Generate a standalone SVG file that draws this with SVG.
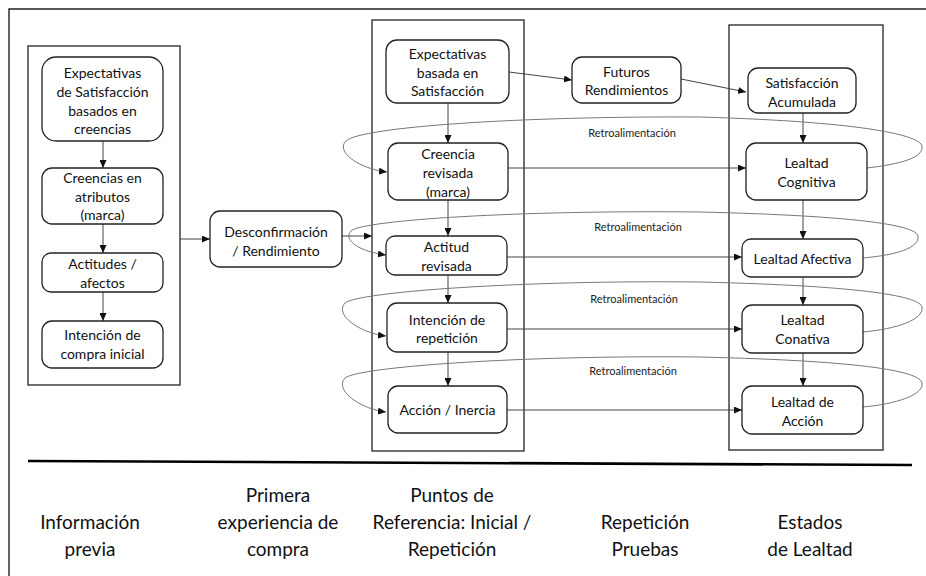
<svg xmlns="http://www.w3.org/2000/svg" width="926" height="576" viewBox="0 0 926 576">
  <defs>
    <marker id="arrow" markerUnits="userSpaceOnUse" markerWidth="8" markerHeight="7" refX="8" refY="3.5" orient="auto">
      <path d="M0,0 L8,3.5 L0,7 z" fill="#111"/>
    </marker>
    <style>
      .frame { fill: none; stroke: #222; stroke-width: 1.4; }
      .box { fill: none; stroke: #333; stroke-width: 1.4; }
      .node rect { fill: #fff; stroke: #222; stroke-width: 1.3; }
      .node text { font-family: Lato, "Liberation Sans", sans-serif; font-size: 14px; fill: #111; text-anchor: middle; }
      .link { fill: none; stroke: #444; stroke-width: 1; marker-end: url(#arrow); }
      .loop { fill: none; stroke: #777; stroke-width: 1; marker-end: url(#arrow); }
      .loopLabel { font-family: Lato, "Liberation Sans", sans-serif; font-size: 11px; fill: #222; text-anchor: middle; }
      .stage { font-family: Lato, "Liberation Sans", sans-serif; font-size: 19px; fill: #111; text-anchor: middle; }
    </style>
  </defs>

  <rect width="926" height="576" fill="#fff"/>

  <!-- outer frame (runs off the right and bottom edges) -->
  <path class="frame" d="M9,590 L9,9 L940,9"/>

  <!-- stage containers -->
  <rect class="box" x="28" y="46" width="152" height="339"/>
  <rect class="box" x="372" y="20" width="152" height="431"/>
  <rect class="box" x="729" y="25" width="154" height="425"/>

  <!-- connectors -->
  <g id="connectors">
    <line class="link" x1="103" y1="141" x2="103" y2="168"/>
    <line class="link" x1="103" y1="224" x2="103" y2="253"/>
    <line class="link" x1="103" y1="292" x2="103" y2="321"/>
    <line class="link" x1="180" y1="239" x2="210" y2="239"/>
    <line class="link" x1="342" y1="236" x2="372" y2="236"/>

    <line class="link" x1="448" y1="103" x2="448" y2="143"/>
    <line class="link" x1="448" y1="200" x2="448" y2="236"/>
    <line class="link" x1="448" y1="275" x2="448" y2="303"/>
    <line class="link" x1="448" y1="352" x2="448" y2="386"/>

    <line class="link" x1="509" y1="72" x2="572" y2="80"/>
    <line class="link" x1="681" y1="79" x2="746" y2="92"/>

    <line class="link" x1="803" y1="113" x2="803" y2="143"/>
    <line class="link" x1="803" y1="200" x2="803" y2="239"/>
    <line class="link" x1="803" y1="277" x2="803" y2="305"/>
    <line class="link" x1="803" y1="353" x2="803" y2="386"/>

    <line class="link" x1="508" y1="168" x2="746" y2="168"/>
    <line class="link" x1="507" y1="257" x2="742" y2="257"/>
    <line class="link" x1="507" y1="329" x2="742" y2="329"/>
    <line class="link" x1="507" y1="410" x2="742" y2="410"/>

    <!-- feedback loops -->
    <path class="loop" d="M867,168 C900,164 924,158 922,146 C920,136 870,122 700,117 C520,116 360,127 346,141 C335,152 360,169 387,172"/>
    <path class="loop" d="M863,258 C896,255 920,248 918,236 C916,226 866,216 700,212 C520,210 362,220 351,231 C342,241 362,252 386,255"/>
    <path class="loop" d="M863,332 C896,329 924,320 922,307 C920,297 870,286 700,282 C520,280 358,292 345,303 C334,315 360,333 386,336"/>
    <path class="loop" d="M863,407 C896,404 924,395 922,383 C920,372 870,361 700,357 C520,355 358,367 345,378 C334,390 360,409 386,412"/>

    <text class="loopLabel" x="632" y="137">Retroalimentación</text>
    <text class="loopLabel" x="638" y="231">Retroalimentación</text>
    <text class="loopLabel" x="634" y="303">Retroalimentación</text>
    <text class="loopLabel" x="633" y="375">Retroalimentación</text>
  </g>

  <!-- prior information -->
  <g id="expectativas-creencias" class="node">
    <rect x="42" y="57" width="121" height="84" rx="14"/>
    <text x="102.5" y="78">Expectativas</text>
    <text x="102.5" y="97">de Satisfacción</text>
    <text x="102.5" y="116">basados en</text>
    <text x="102.5" y="134">creencias</text>
  </g>
  <g id="creencias-atributos" class="node">
    <rect x="42" y="168" width="121" height="56" rx="10"/>
    <text x="102.5" y="183">Creencias en</text>
    <text x="102.5" y="202">atributos</text>
    <text x="102.5" y="220">(marca)</text>
  </g>
  <g id="actitudes" class="node">
    <rect x="42" y="253" width="121" height="39" rx="9"/>
    <text x="102.5" y="269">Actitudes /</text>
    <text x="102.5" y="288">afectos</text>
  </g>
  <g id="intencion-inicial" class="node">
    <rect x="42" y="321" width="121" height="47" rx="10"/>
    <text x="102.5" y="340">Intención de</text>
    <text x="102.5" y="359">compra inicial</text>
  </g>

  <!-- first purchase -->
  <g id="desconfirmacion" class="node">
    <rect x="210" y="211" width="132" height="56" rx="10"/>
    <text x="276" y="237">Desconfirmación</text>
    <text x="276" y="256">/ Rendimiento</text>
  </g>

  <!-- reference points -->
  <g id="expectativas-satisfaccion" class="node">
    <rect x="386" y="40" width="123" height="63" rx="11"/>
    <text x="447.5" y="59">Expectativas</text>
    <text x="447.5" y="78">basada en</text>
    <text x="447.5" y="96">Satisfacción</text>
  </g>
  <g id="creencia-revisada" class="node">
    <rect x="388" y="143" width="120" height="57" rx="10"/>
    <text x="448" y="159">Creencia</text>
    <text x="448" y="178">revisada</text>
    <text x="448" y="197">(marca)</text>
  </g>
  <g id="actitud-revisada" class="node">
    <rect x="386" y="236" width="121" height="39" rx="9"/>
    <text x="446.5" y="252">Actitud</text>
    <text x="446.5" y="271">revisada</text>
  </g>
  <g id="intencion-repeticion" class="node">
    <rect x="387" y="303" width="120" height="49" rx="10"/>
    <text x="447" y="325">Intención de</text>
    <text x="447" y="343">repetición</text>
  </g>
  <g id="accion-inercia" class="node">
    <rect x="388" y="386" width="119" height="47" rx="10"/>
    <text x="447.5" y="415">Acción / Inercia</text>
  </g>

  <!-- repeat trials -->
  <g id="futuros-rendimientos" class="node">
    <rect x="572" y="57" width="109" height="46" rx="10"/>
    <text x="626.5" y="77">Futuros</text>
    <text x="626.5" y="95">Rendimientos</text>
  </g>

  <!-- loyalty states -->
  <g id="satisfaccion-acumulada" class="node">
    <rect x="748" y="68" width="108" height="45" rx="10"/>
    <text x="802" y="88">Satisfacción</text>
    <text x="802" y="107">Acumulada</text>
  </g>
  <g id="lealtad-cognitiva" class="node">
    <rect x="746" y="143" width="121" height="57" rx="10"/>
    <text x="806.5" y="168">Lealtad</text>
    <text x="806.5" y="187">Cognitiva</text>
  </g>
  <g id="lealtad-afectiva" class="node">
    <rect x="742" y="239" width="121" height="38" rx="9"/>
    <text x="802.5" y="264">Lealtad Afectiva</text>
  </g>
  <g id="lealtad-conativa" class="node">
    <rect x="742" y="305" width="121" height="48" rx="10"/>
    <text x="802.5" y="325">Lealtad</text>
    <text x="802.5" y="344">Conativa</text>
  </g>
  <g id="lealtad-accion" class="node">
    <rect x="742" y="386" width="121" height="48" rx="10"/>
    <text x="802.5" y="407">Lealtad de</text>
    <text x="802.5" y="426">Acción</text>
  </g>

  <!-- timeline -->
  <path d="M28,461 L912,465" stroke="#000" stroke-width="2.6" fill="none"/>

  <g id="stage-labels">
    <text class="stage" x="90" y="529">Información</text>
    <text class="stage" x="90" y="556">previa</text>

    <text class="stage" x="278" y="502">Primera</text>
    <text class="stage" x="278" y="529">experiencia de</text>
    <text class="stage" x="278" y="556">compra</text>

    <text class="stage" x="452" y="502">Puntos de</text>
    <text class="stage" x="452" y="529">Referencia: Inicial /</text>
    <text class="stage" x="452" y="556">Repetición</text>

    <text class="stage" x="645" y="529">Repetición</text>
    <text class="stage" x="645" y="556">Pruebas</text>

    <text class="stage" x="810" y="529">Estados</text>
    <text class="stage" x="810" y="556">de Lealtad</text>
  </g>
</svg>
